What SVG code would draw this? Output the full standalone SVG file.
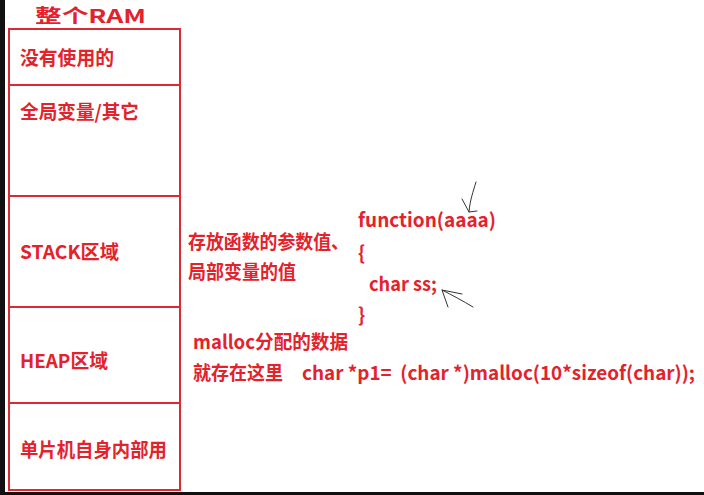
<svg xmlns="http://www.w3.org/2000/svg" width="704" height="495" viewBox="0 0 704 495">
<style>
.t{font-family:"Microsoft YaHei","Noto Sans CJK SC","Noto Sans",sans-serif;font-weight:bold;font-size:19px;fill:#e3222c;white-space:pre}
.box{fill:none;stroke:#dc2a33;stroke-width:2}
.sk{fill:none;stroke:#333;stroke-width:1;stroke-linecap:round;stroke-linejoin:round}
</style>
<rect x="0" y="0" width="704" height="495" fill="#fff"/>
<rect x="0" y="0" width="5" height="495" fill="#111"/>
<rect x="0" y="492" width="704" height="3" fill="#111"/>
<g id="title"><text class="t" x="35" y="23" textLength="111" lengthAdjust="spacingAndGlyphs">整个RAM</text></g>
<g id="ram">
<rect class="box" x="9" y="29" width="171" height="461"/>
<line class="box" x1="9" y1="85" x2="180" y2="85"/>
<line class="box" x1="9" y1="196" x2="180" y2="196"/>
<line class="box" x1="9" y1="307" x2="180" y2="307"/>
<line class="box" x1="9" y1="403" x2="180" y2="403"/>
</g>
<g id="unused"><text class="t" x="20" y="65" textLength="94" lengthAdjust="spacingAndGlyphs">没有使用的</text></g>
<g id="global"><text class="t" x="20" y="119" textLength="119" lengthAdjust="spacingAndGlyphs">全局变量/其它</text></g>
<g id="stack"><text class="t" x="20" y="259" textLength="99" lengthAdjust="spacingAndGlyphs">STACK区域</text></g>
<g id="heap"><text class="t" x="20" y="368" textLength="88" lengthAdjust="spacingAndGlyphs">HEAP区域</text></g>
<g id="internal"><text class="t" x="20" y="457" textLength="147" lengthAdjust="spacingAndGlyphs">单片机自身内部用</text></g>
<g id="stack-note">
<text class="t" x="188" y="249" textLength="161" lengthAdjust="spacingAndGlyphs">存放函数的参数值、</text>
<text class="t" x="188" y="279" textLength="108" lengthAdjust="spacingAndGlyphs">局部变量的值</text>
</g>
<g id="code">
<text class="t" x="358" y="227" textLength="138" lengthAdjust="spacingAndGlyphs">function(aaaa)</text>
<text class="t" x="358" y="260">{</text>
<text class="t" x="369" y="291" textLength="68" lengthAdjust="spacingAndGlyphs">char ss;</text>
<text class="t" x="358" y="322">}</text>
</g>
<g id="heap-note">
<text class="t" x="193" y="349" textLength="155" lengthAdjust="spacingAndGlyphs">malloc分配的数据</text>
<text class="t" x="193" y="380" textLength="90" lengthAdjust="spacingAndGlyphs">就存在这里</text>
<text class="t" x="302" y="380" textLength="393" lengthAdjust="spacingAndGlyphs" xml:space="preserve">char *p1=  (char *)malloc(10*sizeof(char));</text>
</g>
<g id="connectors">
<path class="sk" d="M476,182 C473,192 470,200 469,212"/>
<path class="sk" d="M462,199 L469,212 L477,211"/>
<path class="sk" d="M473,307 C463,301 452,295 442,290"/>
<path class="sk" d="M448,307 L442,290 L462,294"/>
</g>
</svg>
